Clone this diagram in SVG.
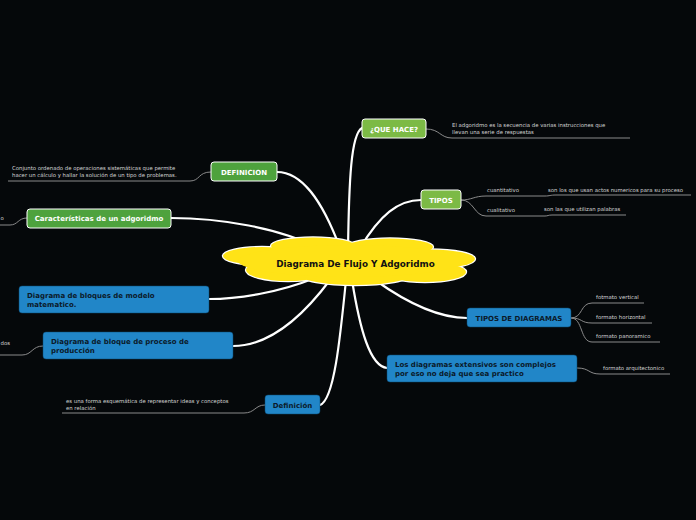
<svg xmlns="http://www.w3.org/2000/svg" width="696" height="520" viewBox="0 0 696 520">
<style>
.bg{fill:#05080a}
.main{fill:none;stroke:#ffffff;stroke-width:2.2;stroke-linecap:round}
.sub{fill:none;stroke:#8a8a8a;stroke-width:1}
.g1{fill:#7cba45;stroke:#ffffff;stroke-width:1}
.g2{fill:#4ea23d;stroke:#ffffff;stroke-width:1}
.b{fill:#2186c8;stroke:#0c4a73;stroke-width:0.5}
.tw{font-family:"DejaVu Sans",Verdana,sans-serif;font-weight:bold;font-size:7px;fill:#ffffff;text-anchor:middle}
.tb{font-family:"DejaVu Sans",Verdana,sans-serif;font-weight:bold;font-size:7px;fill:#0b1a2a}
.tbc{text-anchor:middle}
.leaf{font-family:"DejaVu Sans",Verdana,sans-serif;font-size:5.35px;fill:#d6d6d6}
.cloudS{fill:none;stroke:#ffffff;stroke-width:2.4}
.cloudF{fill:#ffe317}
</style>
<rect class="bg" x="0" y="0" width="696" height="520"/>
<g id="connectors">
<path class="main" d="M348,250 C349,180 351,134 362,128"/>
<path class="main" d="M360,248 C380,215 398,200 421,200"/>
<path class="main" d="M340,248 C322,200 302,172 277,172"/>
<path class="main" d="M318,248 C280,228 220,218 171,218"/>
<path class="main" d="M315,278 C280,292 240,299 209,299"/>
<path class="main" d="M330,280 C300,320 268,346 233,346"/>
<path class="main" d="M346,280 C340,340 334,400 320,405"/>
<path class="main" d="M352,280 C360,330 370,366 387,368"/>
<path class="main" d="M375,280 C410,305 440,318 467,318"/>
<path class="sub" d="M426,129 C440,129 440,138 452,138 L630,138"/>
<path class="sub" d="M461,200 C472,200 474,196 486,196 L545,196 C550,196 550,195 556,195 L691,195"/>
<path class="sub" d="M461,200 C474,200 474,216 486,216 L545,216 C548,216 548,215 552,215 L626,215"/>
<path class="sub" d="M211,172 C198,172 200,181 190,181 L8,181"/>
<path class="sub" d="M27,218 C18,218 18,225 10,225 L0,225"/>
<path class="sub" d="M43,346 C32,346 32,355 22,355 L0,355"/>
<path class="sub" d="M265,405 C255,405 255,413 244,413 L62,413"/>
<path class="sub" d="M571,318 C583,318 580,303 592,303 L644,303"/>
<path class="sub" d="M571,318 C583,318 580,323 592,323 L652,323"/>
<path class="sub" d="M571,318 C583,318 580,342 592,342 L660,342"/>
<path class="sub" d="M577,368 C590,368 588,374 600,374 L670,374"/>
</g>
<g id="central">
<ellipse class="cloudS" cx="262" cy="256" rx="39" ry="9"/>
<ellipse class="cloudS" cx="313" cy="246" rx="42" ry="8.5"/>
<ellipse class="cloudS" cx="390" cy="247" rx="43" ry="8.5"/>
<ellipse class="cloudS" cx="430" cy="259" rx="45" ry="9.5"/>
<ellipse class="cloudS" cx="425" cy="272" rx="41" ry="10"/>
<ellipse class="cloudS" cx="355" cy="275" rx="55" ry="10"/>
<ellipse class="cloudS" cx="288" cy="270" rx="42" ry="11"/>
<ellipse class="cloudF" cx="262" cy="256" rx="39" ry="9"/>
<ellipse class="cloudF" cx="313" cy="246" rx="42" ry="8.5"/>
<ellipse class="cloudF" cx="390" cy="247" rx="43" ry="8.5"/>
<ellipse class="cloudF" cx="430" cy="259" rx="45" ry="9.5"/>
<ellipse class="cloudF" cx="425" cy="272" rx="41" ry="10"/>
<ellipse class="cloudF" cx="355" cy="275" rx="55" ry="10"/>
<ellipse class="cloudF" cx="288" cy="270" rx="42" ry="11"/>
<ellipse class="cloudF" cx="350" cy="261" rx="112" ry="16"/>
<text x="355.5" y="267" font-family="DejaVu Sans,Verdana,sans-serif" font-weight="bold" font-size="8.8" fill="#111" text-anchor="middle">Diagrama De Flujo Y Adgoridmo</text>
</g>
<g id="quehace">
<rect class="g1" x="362" y="119" width="64" height="19" rx="3"/>
<text class="tw" x="394" y="131.5">¿QUE HACE?</text>
<text class="leaf" x="452" y="127">El adgoridmo es la secuencia de varias instrucciones que</text>
<text class="leaf" x="452" y="134">llevan una serie de respuestas</text>
</g>
<g id="tipos">
<rect class="g1" x="421" y="190" width="40" height="19" rx="3"/>
<text class="tw" x="441" y="202.5">TIPOS</text>
<text class="leaf" x="487" y="192">cuantitativo</text>
<text class="leaf" x="548" y="192">son los que usan actos numericos para su proceso</text>
<text class="leaf" x="487" y="212">cualitativo</text>
<text class="leaf" x="544" y="211">son las que utilizan palabras</text>
</g>
<g id="definicion">
<rect class="g2" x="211" y="162" width="66" height="19" rx="3"/>
<text class="tw" x="244" y="174.5">DEFINICION</text>
<text class="leaf" x="12" y="170">Conjunto ordenado de operaciones sistemáticas que permite</text>
<text class="leaf" x="12" y="177">hacer un cálculo y hallar la solución de un tipo de problemas.</text>
</g>
<g id="caracteristicas">
<rect class="g2" x="27" y="209" width="144" height="19" rx="3"/>
<text class="tw" x="99" y="221">Características de un adgoridmo</text>
<text class="leaf" x="0.5" y="220">o</text>
</g>
<g id="bloques-modelo">
<rect class="b" x="19" y="286" width="190" height="27" rx="3"/>
<text class="tb" x="27" y="298">Diagrama de bloques de modelo</text>
<text class="tb" x="27" y="307">matematico.</text>
</g>
<g id="bloque-proceso">
<rect class="b" x="43" y="332" width="190" height="27" rx="3"/>
<text class="tb" x="51" y="344">Diagrama de bloque de proceso de</text>
<text class="tb" x="51" y="353">producción</text>
<text class="leaf" x="0.5" y="345">dos</text>
</g>
<g id="definicion2">
<rect class="b" x="265" y="395" width="55" height="19" rx="3"/>
<text class="tb tbc" x="292.5" y="407.5">Definición</text>
<text class="leaf" x="66" y="403">es una forma esquemática de representar ideas y conceptos</text>
<text class="leaf" x="66" y="410">en relación</text>
</g>
<g id="tipos-diagramas">
<rect class="b" x="467" y="308" width="104" height="19" rx="3"/>
<text class="tb tbc" x="519" y="320.5">TIPOS DE DIAGRAMAS</text>
<text class="leaf" x="596" y="299">fotmato vertical</text>
<text class="leaf" x="596" y="319">formato horizontal</text>
<text class="leaf" x="596" y="338">formato panoramico</text>
</g>
<g id="extensivos">
<rect class="b" x="387" y="355" width="190" height="27" rx="3"/>
<text class="tb" x="395" y="367">Los diagramas extensivos son complejos</text>
<text class="tb" x="395" y="376">por eso no deja que sea practico</text>
<text class="leaf" x="603" y="370">formato arquitectonico</text>
</g>
</svg>
